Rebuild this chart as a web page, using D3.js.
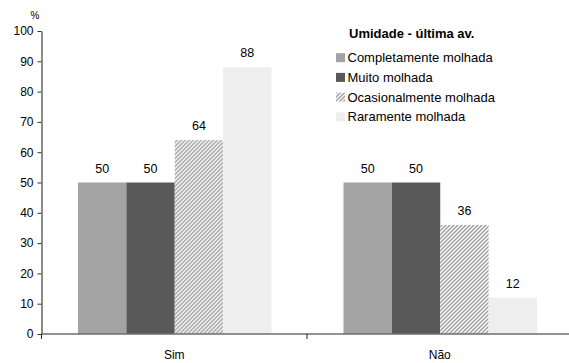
<!DOCTYPE html>
<html>
<head>
<meta charset="utf-8">
<script src="https://cdn.jsdelivr.net/npm/d3@7"></script>
<style>
  html, body { margin: 0; padding: 0; background: #fff; }
  svg { display: block; font-family: "Liberation Sans", Arial, sans-serif; }
</style>
</head>
<body>
<svg id="chart" width="569" height="363"></svg>
<script>
// Categories (x axis) and moisture classes (series)
const categories = ["Sim", "Não"];
const seriesNames = ["Completamente molhada", "Muito molhada", "Ocasionalmente molhada", "Raramente molhada"];
const completamente = [50, 50];
const muito = [50, 50];
const ocasionalmente = [64, 36];
const raramente = [88, 12];
const yTicks = [0, 10, 20, 30, 40, 50, 60, 70, 80, 90, 100];
const legendTitle = "Umidade - última av.";
const yUnit = "%";

const seriesValues = [completamente, muito, ocasionalmente, raramente];
const fills = ["#a3a3a3", "#595959", "url(#hatch)", "#eeeeee"];

const svg = d3.select("#chart");

// diagonal hatch for "Ocasionalmente molhada"
const defs = svg.append("defs");
const pat = defs.append("pattern")
  .attr("id", "hatch")
  .attr("patternUnits", "userSpaceOnUse")
  .attr("width", 4).attr("height", 4);
pat.append("rect").attr("width", 4).attr("height", 4).attr("fill", "#fff");
pat.append("path")
  .attr("d", "M-1,1 l2,-2 M0,4 l4,-4 M3,5 l2,-2")
  .attr("stroke", "#a0a0a0").attr("stroke-width", 1.5);

const y = d3.scaleLinear().domain([0, 100]).range([334, 31]);
const x0 = d3.scaleBand().domain(categories).range([41.5, 572.5]);
const x1 = d3.scaleBand().domain(seriesNames).range([36.5, 230]);

const rows = categories.map((c, i) => ({
  cat: c,
  vals: seriesNames.map((s, j) => ({ s, j, v: seriesValues[j][i] }))
}));

const groups = svg.append("g").selectAll("g").data(rows).join("g")
  .attr("transform", d => `translate(${x0(d.cat)},0)`);

groups.selectAll("rect").data(d => d.vals).join("rect")
  .attr("x", d => x1(d.s))
  .attr("width", x1.bandwidth())
  .attr("y", d => y(d.v))
  .attr("height", d => y(0) - y(d.v))
  .attr("fill", d => fills[d.j]);

groups.selectAll("text").data(d => d.vals).join("text")
  .attr("x", d => x1(d.s) + x1.bandwidth() / 2)
  .attr("y", d => y(d.v) - 10)
  .attr("text-anchor", "middle")
  .attr("font-size", "12.5px")
  .attr("fill", "#000")
  .text(d => d.v);

// y axis
const yAxis = svg.append("g")
  .attr("transform", `translate(${x0.range()[0]},0)`)
  .call(d3.axisLeft(y).tickValues(yTicks).tickSize(4).tickPadding(4).tickSizeOuter(0));
yAxis.select(".domain").attr("stroke", "#6e6e6e").attr("stroke-width", 1.6);
yAxis.selectAll(".tick line").attr("stroke", "#333");
yAxis.selectAll(".tick text").attr("font-size", "12px").attr("fill", "#000")
  .attr("font-family", "Liberation Sans, Arial, sans-serif");

// x axis: ticks sit on the category boundaries
const boundaries = categories.map(c => x0(c)).concat([x0.range()[1]]);
const xAxisG = svg.append("g").attr("transform", `translate(0,${y(0)})`);
xAxisG.append("line")
  .attr("x1", x0.range()[0]).attr("x2", x0.range()[1])
  .attr("stroke", "#6e6e6e").attr("stroke-width", 1.6);
xAxisG.selectAll("line.tk").data(boundaries).join("line")
  .attr("class", "tk")
  .attr("x1", d => d).attr("x2", d => d)
  .attr("y1", 0).attr("y2", 5)
  .attr("stroke", "#222");
xAxisG.selectAll("text").data(categories).join("text")
  .attr("x", d => x0(d) + x0.bandwidth() / 2)
  .attr("y", 25)
  .attr("text-anchor", "middle")
  .attr("font-size", "12px")
  .text(d => d);

// unit label
svg.append("text")
  .attr("x", 35).attr("y", 19)
  .attr("text-anchor", "middle")
  .attr("font-size", "10px")
  .text(yUnit);

// legend
const legend = svg.append("g").attr("transform", "translate(336,0)");
legend.append("text")
  .attr("x", 13).attr("y", 38)
  .attr("font-size", "13px").attr("font-weight", "bold")
  .text(legendTitle);
const items = legend.selectAll("g.item").data(seriesNames).join("g")
  .attr("class", "item")
  .attr("transform", (d, i) => `translate(0,${57.7 + i * 19.7})`);
items.append("rect")
  .attr("x", 0).attr("y", -4.5)
  .attr("width", 9).attr("height", 9)
  .attr("fill", (d, i) => fills[i]);
items.append("text")
  .attr("x", 11.5).attr("y", 4.6)
  .attr("font-size", "13px")
  .text(d => d);
</script>
</body>
</html>
